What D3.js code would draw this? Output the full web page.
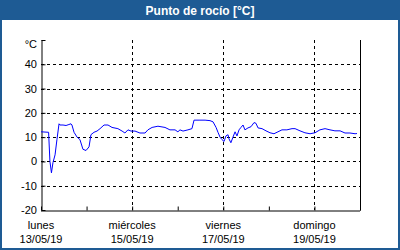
<!DOCTYPE html>
<html>
<head>
<meta charset="utf-8">
<script src="https://cdn.jsdelivr.net/npm/d3@7"></script>
<style>
  body { margin: 0; background: #fff; }
  svg { display: block; font-family: "Liberation Sans", Arial, sans-serif; }
</style>
</head>
<body>
<svg width="400" height="250"></svg>
<script>
// hours since 13/05/19 00:00 and dew point readings
const hours = [0, 4, 4.7, 5.5, 6.3, 7.4, 8.4, 9.5, 10, 11.6, 13.2, 14.7, 15.8, 16.3, 17.4, 19, 20.5, 22.1, 23.7, 25.3,
  26.3, 27.9, 29.5, 31.1, 33.2, 35.3, 37.4, 40.5, 42.7, 44.2, 45.8, 47.4, 49.5, 52.1, 54.8, 56.3, 58.5, 61.6, 65.3,
  67.9, 70.6, 72.1, 73.2, 74.8, 77.4, 79.5, 80.6, 83.7, 86.4, 89, 90.6, 92.2, 93.2, 94.3, 95.3, 96.4, 97.4, 98.5,
  99, 100, 101.1, 102.2, 103.2, 104.3, 105.3, 106.4, 107.4, 109, 110.6, 112.2, 113.2, 114.3, 116.4, 118.5, 120.6,
  122.7, 124.8, 126.9, 129.5, 132.2, 133.8, 136.4, 139, 141.7, 144.3, 146.9, 149.6, 152.2, 154.8, 157.5, 160.1,
  162.7, 165.4, 166.4];
const dewPoint = [12.2, 12, 0, -4.7, -0.5, 2.7, 9, 15.5, 15, 15, 14.8, 15.2, 15.5, 15, 12, 10, 9, 5, 4.5, 6,
  11, 12, 12.5, 13.5, 15, 15, 14, 13.5, 12.5, 11.7, 13, 12.5, 12.5, 11.7, 11.7, 13, 14, 14.5, 14,
  13, 13, 12.2, 13, 12.5, 13, 13.5, 17, 17, 17, 16.8, 16.3, 14, 12, 10, 9, 8.2, 10.5, 11,
  9.3, 7.7, 10, 12.2, 10.5, 13, 14, 15, 13, 13.8, 14.3, 16, 15.7, 13.8, 13.5, 12.6, 11.8,
  11.4, 12.2, 13, 13, 13.5, 13.5, 12.6, 11.8, 11.4, 11.8, 13, 13.5, 13, 12.6, 12.6, 11.7,
  11.7, 11.4, 11.5];
const yTicks = [-20, -10, 0, 10, 20, 30, 40];
const dayNames = ["lunes", "miércoles", "viernes", "domingo"];
const dayDates = ["13/05/19", "15/05/19", "17/05/19", "19/05/19"];

const start = new Date(2019, 4, 13);
const end = new Date(2019, 4, 20);
const data = hours.map((h, i) => ({ t: d3.timeHour.offset(start, 0) .getTime() + h * 3600e3, v: dewPoint[i] }));

const svg = d3.select("svg");
const margin = {top: 40, right: 40, bottom: 40, left: 41};
const W = 400, H = 250;

const x = d3.scaleTime().domain([start, end]).range([margin.left, W - margin.right]);
const y = d3.scaleLinear().domain([-20, 50]).range([H - margin.bottom, margin.top]);

// frame and title bar
svg.append("rect").attr("x", 0).attr("y", 0).attr("width", W).attr("height", 20).attr("fill", "#1e5b94");
svg.append("rect").attr("x", 1).attr("y", 1).attr("width", W - 2).attr("height", H - 2)
  .attr("fill", "none").attr("stroke", "#1e5b94").attr("stroke-width", 2);
svg.append("text").attr("x", W / 2).attr("y", 14.5).attr("text-anchor", "middle")
  .attr("fill", "#fff").attr("font-weight", "bold").attr("font-size", 12)
  .text("Punto de rocío [°C]");

// horizontal dashed grid
svg.append("g").selectAll("line").data(yTicks.slice(1)).join("line")
  .attr("x1", margin.left).attr("x2", W - margin.right)
  .attr("y1", d => Math.round(y(d)) + 0.5).attr("y2", d => Math.round(y(d)) + 0.5)
  .attr("stroke", "#000").attr("stroke-dasharray", "3,3");

// vertical dashed grid on major days
const days = d3.timeDay.range(start, end);
const majorDays = days.filter((d, i) => i % 2 === 0);
svg.append("g").selectAll("line").data(majorDays.slice(1)).join("line")
  .attr("x1", d => Math.round(x(d)) + 0.5).attr("x2", d => Math.round(x(d)) + 0.5)
  .attr("y1", margin.top).attr("y2", H - margin.bottom)
  .attr("stroke", "#000").attr("stroke-dasharray", "3,3");

// axes
const yAxis = svg.append("g").attr("transform", `translate(${margin.left + 0.5},0)`)
  .call(d3.axisRight(y).tickValues(yTicks.concat([50])).tickSize(4).tickFormat(""));
yAxis.select(".domain").attr("d", `M0.5,${margin.top}V${H - margin.bottom}`).attr("stroke", "#000");
svg.append("line").attr("x1", W - margin.right + 0.5).attr("x2", W - margin.right + 0.5)
  .attr("y1", margin.top).attr("y2", H - margin.bottom + 0.5).attr("stroke", "#000");

const xAxis = svg.append("g").attr("transform", `translate(0,${H - margin.bottom + 0.5})`)
  .call(d3.axisTop(x).ticks(d3.timeDay.every(1)).tickSize(4).tickFormat(""));
xAxis.select(".domain").attr("d", `M${margin.left},0.5H${W - margin.right}`).attr("stroke", "#000");

// y labels
svg.append("g").selectAll("text").data(yTicks).join("text")
  .attr("x", 37).attr("y", d => y(d) + 4).attr("text-anchor", "end")
  .attr("font-size", 11).attr("fill", "#000").text(d => d);
svg.append("text").attr("x", 37).attr("y", y(50) + 8).attr("text-anchor", "end")
  .attr("font-size", 11).text("°C");

// x labels
const xl = svg.append("g").selectAll("g").data(majorDays).join("g")
  .attr("transform", d => `translate(${x(d)},0)`);
xl.append("text").attr("y", 229).attr("text-anchor", "middle").attr("font-size", 11)
  .text((d, i) => dayNames[i]);
xl.append("text").attr("y", 243).attr("text-anchor", "middle").attr("font-size", 11)
  .text((d, i) => dayDates[i]);

// line
const line = d3.line().x(d => x(d.t)).y(d => y(d.v));
svg.append("path").datum(data).attr("d", line)
  .attr("fill", "none").attr("stroke", "#0000ff").attr("stroke-width", 1);
</script>
</body>
</html>
